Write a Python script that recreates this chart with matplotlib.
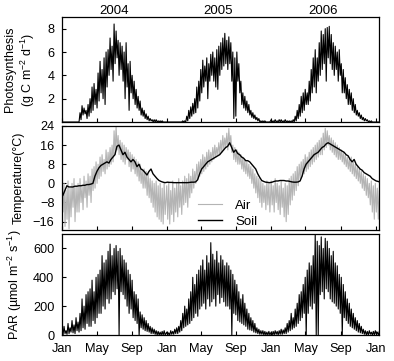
import numpy as np
import matplotlib
matplotlib.use('Agg')
import matplotlib.pyplot as plt
import matplotlib.dates as mdates
from datetime import datetime

plt.rcParams['font.family'] = ['Liberation Sans', 'DejaVu Sans']
plt.rcParams['mathtext.fontset'] = 'custom'
plt.rcParams['mathtext.rm'] = 'Liberation Sans'
plt.rcParams['mathtext.it'] = 'Liberation Sans:italic'

# Weekly values (one list per year, week 0 = Jan 1).
# "Hi" and "Lo" are the top and bottom of the daily scatter in each week.
Years = [2004, 2005, 2006]

# Photosynthesis (g C m-2 d-1)
PsnHi = {
    2004: [0, 0, 0, 0, 0, 0, 0, 0, 0,
           0.8, 1.4, 1.2, 1.0, 1.5, 2.0, 3.0, 3.3, 2.8, 4.2, 5.2, 4.5, 5.5, 6.0, 6.2,
           7.2, 6.5, 8.4, 7.8, 7.0, 6.8, 6.5, 6.0, 6.8, 5.0, 5.2, 4.0, 3.5, 2.8, 2.2,
           1.8, 1.2, 1.0, 0.7, 0.5, 0.3, 0.2, 0.2, 0.2, 0.1, 0.1, 0.1, 0.0],
    2005: [0, 0, 0, 0, 0, 0, 0, 0, 0.1, 0.1,
           0.5, 1.0, 1.3, 1.6, 2.0, 3.0, 3.5, 4.5, 5.3, 4.8, 5.5, 5.0, 5.8, 6.0, 5.5,
           6.2, 6.5, 6.8, 7.2, 7.6, 7.0, 7.3, 6.8, 6.0, 5.5, 6.0, 5.0, 3.5, 2.5, 2.2,
           1.8, 1.5, 1.0, 0.8, 0.6, 0.4, 0.3, 0.1, 0.1, 0.1, 0.0, 0.0],
    2006: [0.2, 0.1, 0.2, 0.1, 0.2, 0.2, 0.1, 0.2, 0.1, 0.1, 0.1, 0.2,
           0.5, 1.0, 1.5, 2.2, 2.5, 2.8, 2.5, 3.5, 4.5, 5.5, 6.2, 5.5, 6.8,
           7.8, 7.5, 8.0, 8.1, 8.2, 7.5, 6.8, 6.5, 6.0, 6.2, 5.0, 4.5, 3.8, 3.2, 2.8,
           2.5, 2.0, 1.5, 1.0, 0.8, 0.6, 0.4, 0.3, 0.2, 0.1, 0.1, 0.0, 0.0, 0.0, 0.0],
}
PsnLo = {
    2004: [0, 0, 0, 0, 0, 0, 0, 0, 0,
           0.2, 0.6, 0.7, 0.3, 0.5, 0.8, 1.0, 1.5, 1.2, 1.8, 2.5, 2.0, 1.5, 3.0, 4.0,
           4.5, 3.5, 5.0, 5.5, 4.0, 4.5, 3.5, 2.0, 3.0, 1.0, 2.5, 2.0, 1.5, 1.2, 1.0,
           0.6, 0.5, 0.3, 0.2, 0.1, 0.1, 0, 0, 0, 0, 0, 0, 0],
    2005: [0, 0, 0, 0, 0, 0, 0, 0, 0, 0,
           0.1, 0.3, 0.5, 0.7, 0.8, 1.2, 1.8, 2.5, 3.0, 3.5, 2.0, 3.5, 4.0, 3.5, 3.0,
           2.8, 4.0, 4.5, 4.8, 5.0, 4.5, 5.0, 3.5, 0.3, 0.5, 3.5, 2.5, 1.5, 1.2, 1.0,
           0.8, 0.6, 0.4, 0.3, 0.2, 0.1, 0, 0, 0, 0, 0, 0],
    2006: [0, 0, 0, 0, 0, 0, 0, 0, 0, 0, 0, 0,
           0.1, 0.3, 0.5, 0.8, 1.0, 1.5, 1.5, 1.8, 2.5, 3.0, 2.5, 3.5, 4.0,
           4.5, 5.0, 3.5, 5.5, 5.0, 4.5, 4.0, 4.5, 3.5, 4.0, 2.5, 2.5, 2.0, 1.5, 1.5,
           1.0, 0.8, 0.6, 0.5, 0.3, 0.2, 0.1, 0.1, 0, 0, 0, 0, 0, 0, 0],
}

# Air temperature (C)
AirHi = {
    2004: [-2, 0, -3, 1, -2, 0, 2, -1, 0, 2, -1, 3, 1, 4, 3, 6, 7, 9, 8,
           11, 12, 10, 14, 13, 15, 16, 22, 24, 20, 18, 17, 16, 15, 14, 13, 12,
           11, 10, 9, 8, 6, 6, 5, 4, 2, 1, 0, 1, -1, 0, -2, 0],
    2005: [-1, 0, -3, 1, -2, 0, 2, -1, 1, 3, 2, 4, 3, 6, 5, 8, 9,
           10, 12, 11, 13, 14, 13, 15, 16, 15, 17, 18, 20, 19, 21, 23, 20,
           16, 15, 14, 13, 12, 11, 10, 9, 8, 7, 6, 4, 3, 2, 1, 0, -1, 1, 0],
    2006: [1, -1, 2, 0, -1, 1, -2, 0, -1, 2, 3, 4, 5, 7, 8, 9,
           10, 12, 11, 13, 14, 15, 16, 17, 18, 19, 21, 23, 22, 20, 19,
           18, 17, 16, 15, 14, 13, 12, 11, 10, 11, 9, 8, 7, 6, 5, 4, 3,
           2, 0, 1, -1, 0, -2, -3],
}
AirLo = {
    2004: [-12, -18, -15, -19, -14, -10, -16, -12, -12, -8, -11, -6, -10, -5, -8, -3,
           -2, 0, 2, 3, 5, 4, 6, 7, 8, 9, 12, 14, 12, 10, 9, 8, 10, 7, 5, 6,
           4, 3, 1, 0, -2, -2, -5, -6, -8, -10, -12, -14, -15, -16, -17, -13],
    2005: [-15, -17, -13, -16, -12, -14, -10, -13, -9, -8, -10, -6, -4, -2, 0, 2, 3,
           4, 5, 6, 7, 8, 9, 10, 11, 12, 12, 13, 14, 15, 14, 16, 13,
           10, 9, 8, 8, 6, 5, 4, 3, 2, 0, -2, -4, -6, -8, -10, -8, -11, -9, -12],
    2006: [-9, -12, -8, -11, -13, -10, -14, -16, -13, -9, -7, -5, -3, -1, 2, 3,
           4, 5, 6, 7, 8, 9, 10, 11, 12, 12, 14, 15, 16, 14, 13,
           12, 11, 10, 10, 9, 8, 7, 6, 5, 4, 3, 2, 1, 0, -2, -3, -5,
           -6, -9, -12, -15, -12, -15, -10],
}

# Soil temperature (C), one value per week
Soil = {
    2004: [-5, -3, -1, -1.5, -1.5, -1.5, -1.2, -1.2, -1.0, -1.0, -0.8, -0.8, -0.5,
           -0.5, -0.3, 0, 3, 5, 6.5, 7.5, 8, 8.5, 9, 8.5, 10, 11, 12, 15.5, 16,
           14, 12, 13, 11, 10, 9, 10, 9, 7, 8, 6, 5.5, 4.5, 3.5, 5, 6, 4, 3, 2,
           1.2, 0.8, 0.5, 0.3],
    2005: [0.5, 0.4, 0.4, 0.3, 0.3, 0.3, 0.3, 0.3, 0.3, 0.3, 0.3, 0.4, 0.5, 0.5, 0.6,
           1.5, 4, 6, 7, 8, 9, 9.5, 10, 10.5, 11, 11.5, 12, 13, 14, 15, 15.5, 17,
           15, 13, 14, 12.5, 12, 11, 10.5, 9.5, 9.5, 9, 8, 7, 6, 4, 2.5, 1.2,
           0.8, 0.5, 0.4, 0.3],
    2006: [0.5, 0.8, 1.0, 1.0, 1.2, 1.2, 1.2, 1.0, 1.0, 0.8, 0.6, 0.5, 0.5, 0.6, 1.0,
           3, 6, 8, 9, 10, 11, 12, 12.5, 13, 14, 15, 15.5, 16.5, 17, 16.5,
           16, 15.5, 15, 14.5, 14, 13.5, 13, 12, 11.5, 10, 9, 10, 8, 7, 6,
           5.5, 4.5, 4, 3.5, 3, 2, 1.5, 1, 0.8, 0.5],
}

# PAR (umol m-2 s-1)
ParHi = {
    2004: [40, 60, 30, 80, 50, 100, 70, 120, 90, 150, 250, 200, 280, 300,
           320, 380, 300, 400, 420, 450, 550, 500, 520, 580, 630, 550, 600, 620, 580,
           600, 550, 520, 500, 450, 420, 380, 300, 280, 250, 160, 140, 120, 100, 80,
           60, 50, 40, 30, 25, 20, 25, 30],
    2005: [20, 15, 30, 25, 40, 50, 60, 100, 150, 200, 180, 250, 300, 400, 350, 420,
           450, 480, 520, 450, 550, 500, 640, 560, 520, 580, 500, 550, 520, 480,
           500, 480, 450, 420, 380, 350, 300, 250, 280, 220, 180, 150, 120, 100, 80,
           50, 40, 30, 30, 25, 20, 25],
    2006: [20, 25, 30, 25, 30, 40, 35, 50, 80, 100, 150, 120, 180, 220, 280, 300,
           350, 400, 450, 500, 480, 550, 700, 650, 620, 680, 600, 670, 650,
           600, 550, 580, 500, 480, 420, 400, 350, 300, 250, 220, 180, 150, 120,
           100, 80, 60, 40, 30, 25, 30, 20, 25, 30, 20, 25],
}
ParLo = {
    2004: [0, 10, 5, 10, 20, 15, 10, 30, 20, 30, 50, 40, 80, 60,
           60, 100, 80, 120, 150, 150, 200, 180, 250, 220, 250, 300, 280, 320, 0,
           300, 280, 250, 200, 150, 180, 120, 100, 80, 0, 50, 40, 30, 25, 20,
           10, 10, 5, 0, 0, 0, 0, 0],
    2005: [0, 0, 5, 5, 10, 10, 20, 30, 50, 60, 70, 80, 100, 120, 150, 130,
           180, 200, 220, 180, 250, 200, 230, 250, 200, 280, 220, 260, 230, 200,
           200, 180, 0, 150, 140, 100, 90, 80, 70, 60, 40, 35, 30, 20, 15,
           10, 5, 5, 0, 0, 0, 0],
    2006: [0, 0, 5, 0, 5, 5, 10, 10, 20, 30, 40, 50, 60, 80, 100, 120,
           150, 0, 150, 200, 180, 220, 0, 0, 280, 300, 250, 320, 300,
           250, 230, 220, 200, 180, 150, 0, 120, 100, 80, 60, 50, 40, 30,
           20, 15, 10, 5, 0, 0, 5, 0, 0, 5, 0, 5],
}

MonthTicks = [1, 5, 9]
FontSize = 9.2


def Zigzag(Hi, Lo):
    # join the weekly high / low readings of all years into one line
    X, Y = [], []
    for Year in Years:
        Start = mdates.date2num(datetime(Year, 1, 1))
        Days = Start + 7.0 * np.arange(len(Hi[Year]))
        X.append(np.column_stack([Days, Days + 3.5]).ravel())
        Y.append(np.column_stack([Hi[Year], Lo[Year]]).ravel())
    return np.concatenate(X), np.concatenate(Y)


def Weekly(Values):
    X, Y = [], []
    for Year in Years:
        Start = mdates.date2num(datetime(Year, 1, 1))
        X.append(Start + 3.0 + 7.0 * np.arange(len(Values[Year])))
        Y.append(np.array(Values[Year], dtype=float))
    return np.concatenate(X), np.concatenate(Y)


fig = plt.figure(figsize=(3.94, 3.61), dpi=100)
ax1 = fig.add_axes([0.1574, 0.662, 0.8046, 0.2909])
ax2 = fig.add_axes([0.1574, 0.3629, 0.8046, 0.2881], sharex=ax1)
ax3 = fig.add_axes([0.1574, 0.0720, 0.8046, 0.2798], sharex=ax1)

# Photosynthesis
x, y = Zigzag(PsnHi, PsnLo)
ax1.plot(x, y, color='black', linewidth=0.8)
ax1.set_ylim(0, 9)
ax1.set_yticks([2, 4, 6, 8])
ax1.set_ylabel('Photosynthesis\n(g C m$^{-2}$ d$^{-1}$)', fontsize=9)

# Temperature
x, y = Zigzag(AirHi, AirLo)
ax2.plot(x, y, color='#b4b4b4', linewidth=0.8, label='Air')
x, y = Weekly(Soil)
ax2.plot(x, y, color='black', linewidth=1.0, label='Soil')
ax2.set_ylim(-19.5, 24)
ax2.set_yticks([-16, -8, 0, 8, 16, 24])
ax2.set_ylabel('Temperature(\u00b0C)', fontsize=9)
ax2.legend(loc='lower left', bbox_to_anchor=(0.43, 0.02), frameon=False,
           handlelength=1.8, handletextpad=1.0, labelspacing=0.3,
           borderpad=0, borderaxespad=0, fontsize=9.5)

# PAR
x, y = Zigzag(ParHi, ParLo)
ax3.plot(x, y, color='black', linewidth=0.8)
ax3.set_ylim(0, 700)
ax3.set_yticks([0, 200, 400, 600])
ax3.set_ylabel('PAR (\u00b5mol m$^{-2}$ s$^{-1}$)', fontsize=9)

Start = mdates.date2num(datetime(2004, 1, 1))
ax3.set_xlim(Start, Start + 1108)
ax3.xaxis.set_major_locator(mdates.MonthLocator(bymonth=MonthTicks))
ax3.xaxis.set_major_formatter(mdates.DateFormatter('%b'))

for ax in [ax1, ax2, ax3]:
    ax.tick_params(direction='in', length=3, width=0.8, labelsize=FontSize, pad=5.5)
    for s in ax.spines.values():
        s.set_linewidth(0.9)
for ax in [ax1, ax2]:
    ax.tick_params(labelbottom=False)

ax1.yaxis.set_label_coords(-0.078, 0.5)
ax2.yaxis.set_label_coords(-0.117, 0.5)
ax3.yaxis.set_label_coords(-0.12, 0.5)

# year titles
for Year in Years:
    ax1.text(mdates.date2num(datetime(Year, 7, 1)), 9.02, str(Year),
             ha='center', va='bottom', fontsize=9.5)

fig.savefig('out.png', dpi=100)
